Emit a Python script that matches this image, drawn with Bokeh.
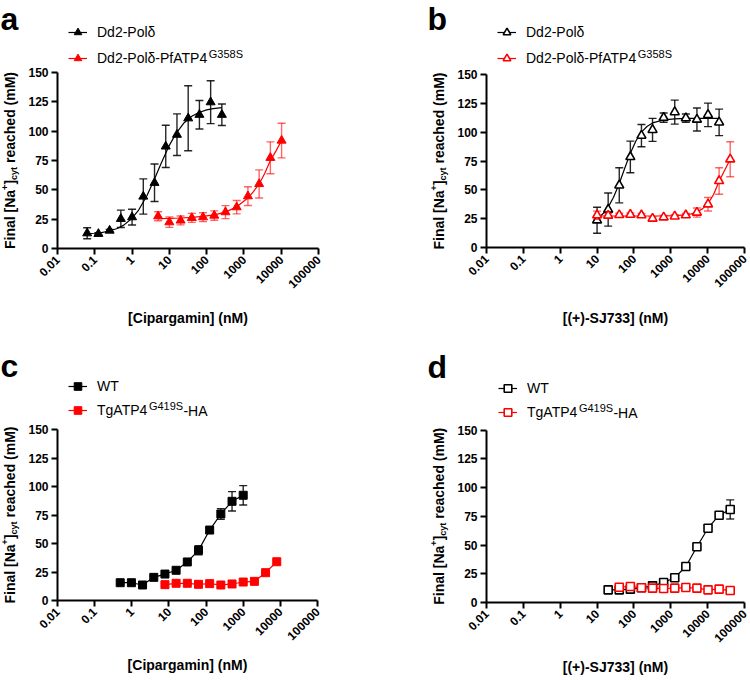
from math import pi
from bokeh.plotting import figure
from bokeh.models import Range1d, FixedTicker, Label, Legend, LegendItem
from bokeh.layouts import gridplot
from bokeh.embed import file_html
from bokeh.resources import INLINE

FONT = "Liberation Sans"

# ---------------- data ----------------
x_ticks = [0.01, 0.1, 1, 10, 100, 1000, 10000, 100000]
x_tick_labels = ["0.01", "0.1", "1", "10", "100", "1000", "10000", "100000"]
y_ticks = [0, 25, 50, 75, 100, 125, 150]

# panel a  (Cipargamin, P. falciparum)
a_black_x = [0.0625, 0.125, 0.25, 0.5, 1, 2, 4, 8, 16, 32, 64, 128, 256]
a_black_y = [13, 12.5, 15.3, 25.3, 26.7, 44.3, 56, 87, 97, 111, 114, 124.7, 114]
a_black_e = [4.7, 1, 1, 7.4, 6.7, 15, 16, 18, 17.7, 27.7, 12.2, 18.3, 9.2]
a_black_fit_x = [0.0625, 0.1, 0.15, 0.25, 0.4, 0.6, 1, 1.5, 2.5, 4, 6, 10, 15, 25, 40, 60, 100, 150, 256]
a_black_fit_y = [12.6, 13.0, 13.6, 14.9, 17.0, 19.9, 25.8, 32.8, 45, 59.2, 72.4, 87.9, 98, 107.2, 112.7, 115.7, 118.1, 119.2, 120]
a_red_x = [5, 10, 20, 40, 80, 160, 320, 640, 1280, 2560, 5120, 10240]
a_red_y = [27.5, 22.4, 23.9, 26.1, 26.7, 28.1, 31, 35.2, 44.6, 55, 77.3, 92]
a_red_e = [3.8, 4.4, 3.8, 3.8, 3.8, 4, 5.5, 5.7, 8, 12, 13.6, 14.8]
a_red_fit_x = [5, 10, 20, 40, 80, 160, 320, 640, 1280, 1800, 2560, 3600, 5120, 7200, 10240]
a_red_fit_y = [25.5, 25.7, 26, 26.5, 27.3, 28.6, 31, 35.5, 43, 48.5, 55, 64, 75, 83, 92]

# panel b  ((+)-SJ733, P. falciparum)
b_black_x = [10, 20, 40, 80, 160, 320, 640, 1280, 2560, 5120, 10240, 20480]
b_black_y = [23.6, 32.9, 53.9, 78.5, 97, 102, 112.6, 117.4, 112.2, 111, 115, 108.5]
b_black_e = [11.3, 14.4, 15.2, 13.7, 9.7, 10, 4, 10.4, 3.6, 10, 10.2, 11.5]
b_black_fit_x = [10, 14, 20, 28, 40, 56, 80, 113, 160, 226, 320, 640, 1280, 2560, 5120, 10240, 20480]
b_black_fit_y = [25.2, 28.8, 35, 43.5, 55.5, 68.5, 81.8, 92.3, 100, 104.9, 108, 110.7, 111.6, 111.9, 112, 112, 112]
b_red_x = [10, 20, 40, 80, 160, 320, 640, 1280, 2560, 5120, 10240, 20480, 40960]
b_red_y = [28, 27.7, 28.2, 28.5, 28, 25.1, 26.2, 27, 28, 30.3, 37.5, 57.7, 76.5]
b_red_e = [3.5, 2, 1.5, 1.5, 1.5, 1.5, 1.5, 1.5, 1.5, 4, 5.8, 11.5, 15.2]
b_red_fit_x = [10, 20, 40, 80, 160, 320, 640, 1280, 2560, 3600, 5120, 7200, 10240, 14500, 20480, 29000, 40960]
b_red_fit_y = [27.3, 27.3, 27.3, 27.3, 27.3, 27.3, 27.4, 27.6, 28.3, 29.2, 30.7, 33.5, 38, 46, 57.5, 67, 76.5]

# panel c  (Cipargamin, T. gondii)
c_black_x = [0.488, 0.977, 1.95, 3.91, 7.81, 15.6, 31.25, 62.5, 125, 250, 500, 1000]
c_black_y = [15.6, 15.6, 13.6, 20.3, 23.2, 26.5, 33.8, 44, 61.8, 75.9, 87, 92.3]
c_black_e = [1, 1, 1.5, 1, 1, 1, 1.5, 4, 2, 4.7, 8.5, 8.5]
c_red_x = [7.81, 15.6, 31.25, 62.5, 125, 250, 500, 1000, 2000, 4000, 8000]
c_red_y = [13.9, 15.1, 15.1, 14.2, 14.8, 13.6, 14.5, 16.2, 16.8, 24.4, 34]
c_red_e = [1, 1, 1, 1, 1, 1, 1, 1, 1, 1, 1.5]

# panel d  ((+)-SJ733, T. gondii)
d_black_x = [20, 40, 80, 160, 320, 640, 1280, 2560, 5120, 10240, 20480, 40960]
d_black_y = [11, 11, 11.6, 12.8, 14.5, 17.4, 21.5, 31.3, 48.5, 64.6, 75.9, 80.9]
d_black_e = [1, 1, 1, 1, 1, 1.5, 1.5, 1.5, 1.5, 1.5, 1.5, 8.3]
d_red_x = [40, 80, 160, 320, 640, 1280, 2560, 5120, 10240, 20480, 40960]
d_red_y = [13.3, 13.9, 12.8, 12.5, 12.2, 12.5, 13, 12.5, 11, 11.6, 10.4]
d_red_e = [1, 1, 1, 1, 1, 1, 1, 1, 1, 1, 1]

# ---------------- layout / style ----------------
W, H = 375, 339


def lab(p, x, y, text, size, bold=False, angle=0, baseline="middle"):
    # x, y in figure pixels measured from the top-left corner
    p.add_layout(Label(x=x, y=H - y, x_units="screen", y_units="screen", text=text, angle=angle,
                       text_font=FONT, text_font_style="bold" if bold else "normal",
                       text_font_size=f"{size}px", text_baseline=baseline, text_align="left",
                       text_color="black"))


def add_ylabel(p, x0, yc):
    # pieces along the rotated label (bottom to top): text, size, sideways shift, advance
    pieces = [("Final [Na", 14, 0, 59.1), ("+", 9, -5, 5.3), ("]", 14, 0, 4.7),
              ("cyt", 9, 4, 13.0), (None, 14, 0, 3.9), ("reached (mM)", 14, 0, 91.0)]
    total = sum(pc[3] for pc in pieces)
    y = yc + total / 2
    for text, fs, dx, w in pieces:
        if text:
            lab(p, x0 + dx, y, text, fs, bold=True, angle=pi / 2)
        y -= w


def make_panel(fr, leg_x, leg_c, letter, letter_pos, ylab_x, xlabel, xl_standoff,
               series, leg_texts, leg_extra):
    L, R, T, B = fr
    dec = (R - L) / 7.0
    upx = (B - T) / 150.0
    x0 = 10 ** (-2 - L / dec)
    x1 = 10 ** (5 + (W - R) / dec)
    y0 = -(H - B) / upx
    y1 = 150 + T / upx
    p = figure(width=W, height=H, x_axis_type="log", x_range=Range1d(x0, x1),
               y_range=Range1d(y0, y1), output_backend="svg", toolbar_location=None, title=None,
               min_border_left=0, min_border_right=0, min_border_top=0, min_border_bottom=0)
    p.outline_line_color = None
    p.grid.visible = False
    for ax in (p.xaxis[0], p.yaxis[0]):
        ax.axis_line_width = 2
        ax.axis_line_color = "black"
        ax.major_tick_line_width = 2
        ax.major_tick_line_color = "black"
        ax.major_tick_out = 6
        ax.major_tick_in = 0
        ax.minor_tick_line_color = None
        ax.major_label_text_font = FONT
        ax.major_label_text_font_style = "bold"
        ax.major_label_text_font_size = "12px"
        ax.major_label_text_color = "black"
        ax.major_label_standoff = 3
    p.xaxis.fixed_location = 0
    p.xaxis.bounds = (0.01, 100000)
    p.yaxis.fixed_location = 0.01
    p.yaxis.bounds = (0, 150)
    p.xaxis.ticker = FixedTicker(ticks=x_ticks)
    p.xaxis.major_label_overrides = dict(zip(x_ticks, x_tick_labels))
    p.xaxis.major_label_orientation = pi / 4
    p.xaxis.axis_label = xlabel
    p.xaxis.axis_label_text_font = FONT
    p.xaxis.axis_label_text_font_style = "bold"
    p.xaxis.axis_label_text_font_size = "14px"
    p.xaxis.axis_label_text_color = "black"
    p.xaxis.axis_label_standoff = xl_standoff
    p.yaxis.ticker = FixedTicker(ticks=y_ticks)

    items = []
    for s in series:
        col = s["color"]
        bar_alpha = 0.85 if col == "black" else 0.6
        lo = [v - e for v, e in zip(s["y"], s["e"])]
        hi = [v + e for v, e in zip(s["y"], s["e"])]
        p.segment(x0=s["x"], y0=lo, x1=s["x"], y1=hi, line_color=col, line_width=1.4, line_alpha=bar_alpha)
        p.scatter(x=s["x"] + s["x"], y=lo + hi, marker="dash", size=8, line_color=col,
                  line_width=1.4, line_alpha=bar_alpha)
        fx = s.get("fx") or s["x"]
        fy = s.get("fy") or s["y"]
        lr = p.line(x=fx, y=fy, line_color=col, line_width=1.2)
        mr = p.scatter(x=s["x"], y=s["y"], marker=s["marker"], size=s["size"], line_color=col,
                       fill_color=col if s["filled"] else "white",
                       line_width=1 if s["filled"] else 1.6)
        items.append((lr, mr))

    # legend above the axes
    c1, c2 = leg_c
    spacing = round((c2 - c1) - 20)
    legend = Legend(items=[LegendItem(label=t, renderers=list(r)) for t, r in zip(leg_texts, items)],
                    location=(leg_x, H - (c2 + 10)), orientation="vertical", padding=0, margin=0,
                    spacing=spacing, glyph_width=19, glyph_height=20, label_height=20,
                    label_standoff=10, label_text_font=FONT, label_text_font_size="14px",
                    label_text_color="black", border_line_color=None, background_fill_alpha=0)
    p.add_layout(legend)
    tx = leg_x + 29
    for text, dxw, fs, dy in leg_extra:
        lab(p, tx + dxw, c2 - dy, text, fs)

    # panel letter (top of its text box given)
    lab(p, letter_pos[0], letter_pos[1], letter, 32, bold=True, baseline="top")
    # y-axis title
    add_ylabel(p, ylab_x, (T + B) / 2)
    return p


pa = make_panel((57, 318, 72, 248), 68, (32, 58), "a", (0, 0.5), 9, "[Cipargamin] (nM)", 15,
                [dict(x=a_black_x, y=a_black_y, e=a_black_e, fx=a_black_fit_x, fy=a_black_fit_y,
                      color="black", marker="triangle", filled=True, size=9),
                 dict(x=a_red_x, y=a_red_y, e=a_red_e, fx=a_red_fit_x, fy=a_red_fit_y,
                      color="red", marker="triangle", filled=True, size=9)],
                ["Dd2-Polδ", "Dd2-Polδ-PfATP4"], [("G358S", 111.3, 11, 5)])

pb = make_panel((111, 369, 74, 247), 122, (32, 58), "b", (52, 0.5), 63, "[(+)-SJ733] (nM)", 16,
                [dict(x=b_black_x, y=b_black_y, e=b_black_e, fx=b_black_fit_x, fy=b_black_fit_y,
                      color="black", marker="triangle", filled=False, size=9),
                 dict(x=b_red_x, y=b_red_y, e=b_red_e, fx=b_red_fit_x, fy=b_red_fit_y,
                      color="red", marker="triangle", filled=False, size=9)],
                ["Dd2-Polδ", "Dd2-Polδ-PfATP4"], [("G358S", 111.3, 11, 5)])

pc = make_panel((57, 317, 90, 261), 68, (47.5, 71), "c", (0, 8), 9, "[Cipargamin] (nM)", 10,
                [dict(x=c_black_x, y=c_black_y, e=c_black_e, color="black", marker="square",
                      filled=True, size=8),
                 dict(x=c_red_x, y=c_red_y, e=c_red_e, color="red", marker="square",
                      filled=True, size=8)],
                ["WT", "TgATP4"], [("G419S", 51.4, 11, 5), ("-HA", 51.4 + 34.5, 14, 0)])

pd_ = make_panel((111, 369, 90.5, 263), 123, (49, 73), "d", (52, 9), 63, "[(+)-SJ733] (nM)", 10,
                 [dict(x=d_black_x, y=d_black_y, e=d_black_e, color="black", marker="square",
                       filled=False, size=8),
                  dict(x=d_red_x, y=d_red_y, e=d_red_e, color="red", marker="square",
                       filled=False, size=8)],
                 ["WT", "TgATP4"], [("G419S", 51.4, 11, 5), ("-HA", 51.4 + 34.5, 14, 0)])

grid = gridplot([[pa, pb], [pc, pd_]], toolbar_location=None)
open("out.html", "w").write(file_html(grid, INLINE))
